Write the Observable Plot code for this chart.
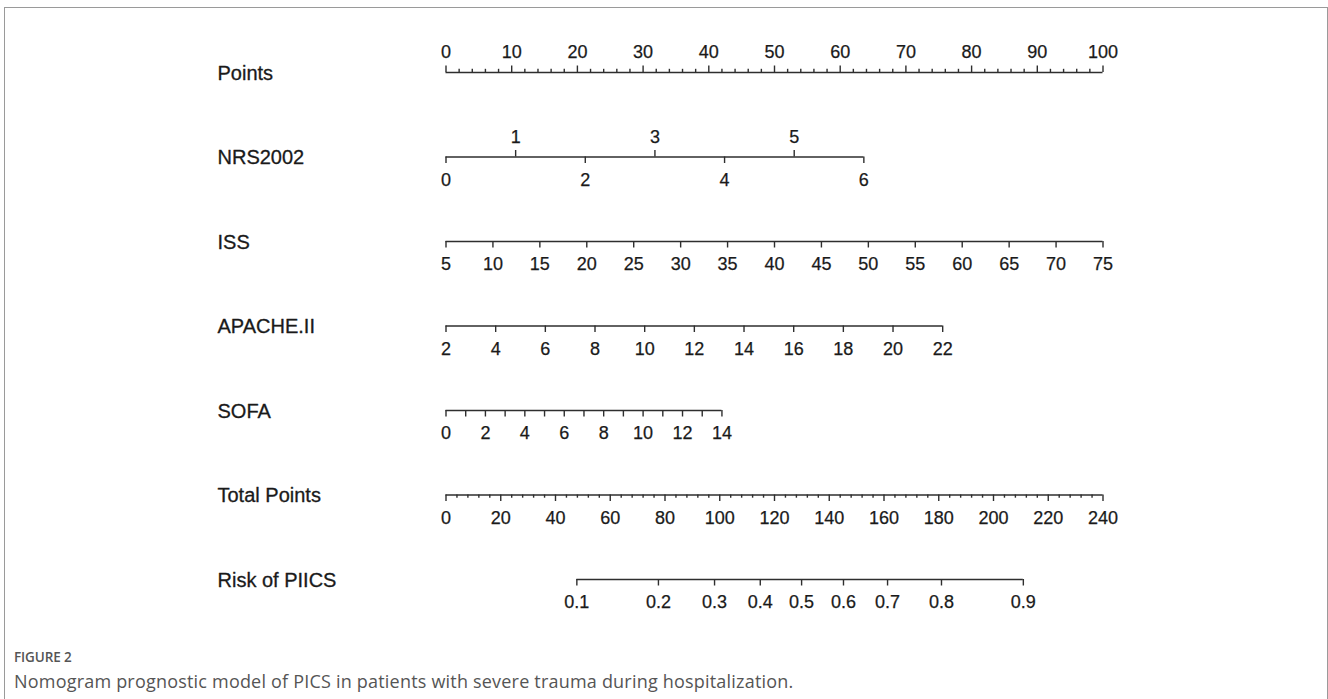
<!DOCTYPE html>
<html><head><meta charset="utf-8">
<script src="https://cdn.jsdelivr.net/npm/d3@7"></script>
<script src="https://cdn.jsdelivr.net/npm/@observablehq/plot@0.6"></script>
<style>
body{margin:0;background:#fff;width:1328px;height:699px;overflow:hidden;position:relative;font-family:"Liberation Sans",Arial,sans-serif;}
#frame{position:absolute;left:4px;top:7px;width:1322px;height:720px;border:1px solid #9a9a9a;border-bottom:none;}
#chart{position:absolute;left:0;top:0;}
#chart svg text{font-family:"Liberation Sans",Arial,sans-serif !important;}
#fig{position:absolute;left:14px;top:648px;font-family:"Open Sans",sans-serif;font-size:13.5px;color:#555;font-weight:600;letter-spacing:-0.1px;}
#cap{position:absolute;left:14px;top:669px;font-family:"Open Sans",sans-serif;font-size:18px;color:#555;letter-spacing:0.2px;}
</style></head><body>
<div id="frame"></div>
<div id="chart"></div>
<div id="fig">FIGURE 2</div>
<div id="cap">Nomogram prognostic model of PICS in patients with severe trauma during hospitalization.</div>
<script>
// ---- data ----
const rowLabels = ["Points", "NRS2002", "ISS", "APACHE.II", "SOFA", "Total Points", "Risk of PIICS"];

const pointsLabels = [0, 10, 20, 30, 40, 50, 60, 70, 80, 90, 100];
const pointsMinorStep = 2;

const nrsLabelsAbove = [1, 3, 5];
const nrsLabelsBelow = [0, 2, 4, 6];
const nrsMaxPoints = 63.6;          // points reached at NRS2002 = 6

const issLabels = [5, 10, 15, 20, 25, 30, 35, 40, 45, 50, 55, 60, 65, 70, 75];
const issMaxPoints = 100;           // points at ISS = 75

const apacheLabels = [2, 4, 6, 8, 10, 12, 14, 16, 18, 20, 22];
const apacheMaxPoints = 75.6;       // points at APACHE.II = 22

const sofaTicks = [0, 1, 2, 3, 4, 5, 6, 7, 8, 9, 10, 11, 12, 13, 14];
const sofaLabels = [0, 2, 4, 6, 8, 10, 12, 14];
const sofaMaxPoints = 42.0;         // points at SOFA = 14

const totalLabels = [0, 20, 40, 60, 80, 100, 120, 140, 160, 180, 200, 220, 240];
const totalMinorStep = 4;

const riskLabels = ["0.1", "0.2", "0.3", "0.4", "0.5", "0.6", "0.7", "0.8", "0.9"];
const riskTotalPoints = [47.8, 77.6, 98.1, 114.8, 129.9, 145.2, 161.3, 181.0, 210.9];

// ---- build marks data ----
const W = 1328, H = 640;
const rowTop = 72, rowBottom = 579;
const rowPx = (rowBottom - rowTop) / (rowLabels.length - 1);
const majorLen = 6.5, minorLen = 3.2;

const lin = (v, v0, v1, p1) => (v - v0) / (v1 - v0) * p1; // value -> points
const totalToPoints = (t) => t * 100 / totalLabels[totalLabels.length - 1];

const ticks = [];   // {row, x, len}
const labels = [];  // {row, x, text, side}
const lines = [];   // {row, x1, x2}

// Row 0: Points
lines.push({row: 0, x1: 0, x2: 100});
d3.range(0, 100 + 1e-9, pointsMinorStep).forEach(v => {
  const major = pointsLabels.includes(v);
  ticks.push({row: 0, x: v, len: -(major ? majorLen : minorLen)});
});
pointsLabels.forEach(v => labels.push({row: 0, x: v, text: String(v), side: -1}));

// Row 1: NRS2002
const nrsAll = [...nrsLabelsBelow, ...nrsLabelsAbove];
const nrsMin = d3.min(nrsAll), nrsMax = d3.max(nrsAll);
lines.push({row: 1, x1: 0, x2: nrsMaxPoints});
nrsLabelsBelow.forEach(v => {
  const x = lin(v, nrsMin, nrsMax, nrsMaxPoints);
  ticks.push({row: 1, x, len: majorLen});
  labels.push({row: 1, x, text: String(v), side: 1});
});
nrsLabelsAbove.forEach(v => {
  const x = lin(v, nrsMin, nrsMax, nrsMaxPoints);
  ticks.push({row: 1, x, len: -majorLen});
  labels.push({row: 1, x, text: String(v), side: -1});
});

// generic downward axis
function downAxis(row, tickVals, labelVals, v0, v1, maxPts) {
  lines.push({row, x1: 0, x2: maxPts});
  tickVals.forEach(v => ticks.push({row, x: lin(v, v0, v1, maxPts), len: majorLen}));
  labelVals.forEach(v => labels.push({row, x: lin(v, v0, v1, maxPts), text: String(v), side: 1}));
}
downAxis(2, issLabels, issLabels, issLabels[0], issLabels[issLabels.length - 1], issMaxPoints);
downAxis(3, apacheLabels, apacheLabels, apacheLabels[0], apacheLabels[apacheLabels.length - 1], apacheMaxPoints);
downAxis(4, sofaTicks, sofaLabels, sofaTicks[0], sofaTicks[sofaTicks.length - 1], sofaMaxPoints);

// Row 5: Total Points
lines.push({row: 5, x1: 0, x2: 100});
d3.range(0, 240 + 1e-9, totalMinorStep).forEach(v => {
  const major = totalLabels.includes(v);
  ticks.push({row: 5, x: totalToPoints(v), len: major ? majorLen : minorLen});
});
totalLabels.forEach(v => labels.push({row: 5, x: totalToPoints(v), text: String(v), side: 1}));

// Row 6: Risk
const riskX = riskTotalPoints.map(totalToPoints);
lines.push({row: 6, x1: d3.min(riskX), x2: d3.max(riskX)});
riskLabels.forEach((t, i) => {
  ticks.push({row: 6, x: riskX[i], len: majorLen});
  labels.push({row: 6, x: riskX[i], text: t, side: 1});
});

const ink = "#1a1a1a";
const lineCol = "#2e2e2e";

const chart = Plot.plot({
  width: W,
  height: H,
  marginLeft: 445.5,
  marginRight: W - 1102.5,
  marginTop: rowTop,
  marginBottom: H - rowBottom,
  x: {domain: [0, 100], axis: null},
  y: {domain: [0, rowLabels.length - 1], reverse: true, axis: null},
  style: {fontFamily: "'Liberation Sans', Arial, sans-serif", background: "transparent", overflow: "visible"},
  marks: [
    Plot.ruleY(lines, {y: "row", x1: "x1", x2: "x2", stroke: lineCol, strokeWidth: 1.4}),
    Plot.ruleX(ticks, {x: "x", y1: "row", y2: d => d.row + d.len / rowPx, stroke: lineCol, strokeWidth: 1.4}),
    Plot.text(labels.filter(d => d.side < 0), {x: "x", y: "row", text: "text", dy: -20, fontSize: 18, fill: ink, stroke: ink, strokeWidth: 0.25}),
    Plot.text(labels.filter(d => d.side > 0), {x: "x", y: "row", text: "text", dy: 23, fontSize: 18, fill: ink, stroke: ink, strokeWidth: 0.25}),
    Plot.text(rowLabels.map((l, i) => ({l, i})), {frameAnchor: "left", y: "i", text: "l", textAnchor: "start", dx: -228.5, dy: 1, fontSize: 20, fill: ink, stroke: ink, strokeWidth: 0.3})
  ]
});
document.getElementById("chart").appendChild(chart);
</script>
</body></html>
